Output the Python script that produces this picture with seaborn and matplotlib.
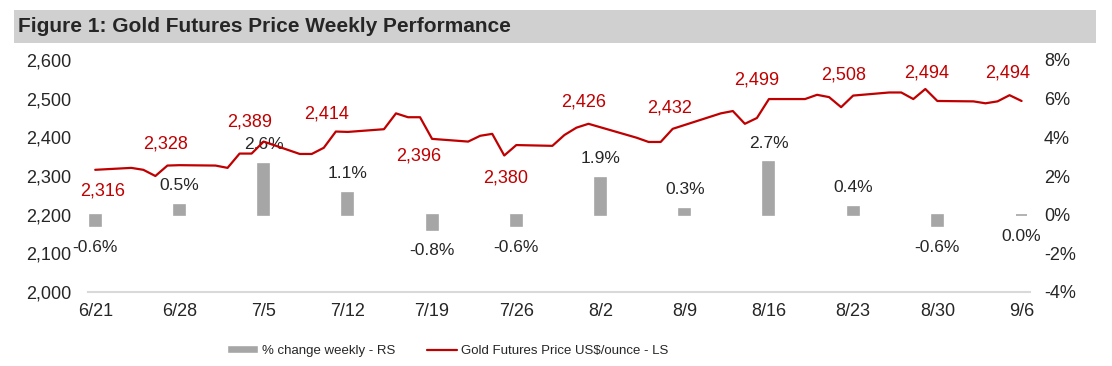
import pandas as pd
import seaborn as sns
import matplotlib.pyplot as plt
from matplotlib.patches import Rectangle
from matplotlib.lines import Line2D
from matplotlib.patches import Patch

# daily gold futures price (business days, 6/21 - 9/6)
price_dates = ['6/21', '6/24', '6/25', '6/26', '6/27', '6/28',
               '7/1', '7/2', '7/3', '7/4', '7/5',
               '7/8', '7/9', '7/10', '7/11', '7/12',
               '7/15', '7/16', '7/17', '7/18', '7/19',
               '7/22', '7/23', '7/24', '7/25', '7/26',
               '7/29', '7/30', '7/31', '8/1', '8/2',
               '8/5', '8/6', '8/7', '8/8', '8/9',
               '8/12', '8/13', '8/14', '8/15', '8/16',
               '8/19', '8/20', '8/21', '8/22', '8/23',
               '8/26', '8/27', '8/28', '8/29', '8/30',
               '9/2', '9/3', '9/4', '9/5', '9/6']
price = [2316, 2321, 2316, 2300, 2327, 2328,
         2327, 2321, 2358, 2358, 2389,
         2357, 2357, 2373, 2415, 2414,
         2421, 2462, 2452, 2452, 2396,
         2389, 2404, 2409, 2353, 2380,
         2378, 2406, 2425, 2435, 2426,
         2399, 2388, 2388, 2422, 2432,
         2462, 2468, 2435, 2450, 2499,
         2499, 2510, 2504, 2478, 2508,
         2516, 2516, 2499, 2525, 2494,
         2493, 2488, 2493, 2509, 2494]

# weekly % change
weeks = ['6/21', '6/28', '7/5', '7/12', '7/19', '7/26',
         '8/2', '8/9', '8/16', '8/23', '8/30', '9/6']
weekly_change = [-0.6, 0.5, 2.6, 1.1, -0.8, -0.6, 1.9, 0.3, 2.7, 0.4, -0.6, -0.03]


def to_day(label):
    d = pd.Timestamp('2024-' + label.replace('/', '-'))
    return (d - pd.Timestamp('2024-06-21')).days


line_df = pd.DataFrame({'day': [to_day(d) for d in price_dates], 'price': price})
bar_df = pd.DataFrame({'day': [to_day(w) for w in weeks], 'change': weekly_change})

sns.set_style('white')
plt.rcParams['font.family'] = ['Liberation Sans', 'DejaVu Sans']

RED = '#C00000'
GREY = '#A6A6A6'

fig = plt.figure(figsize=(11.12, 3.66), dpi=100)
ax = fig.add_axes([88 / 1112, 1 - 292 / 366, 942 / 1112, 232 / 366])
ax2 = ax.twinx()

# bars on right axis
sns.barplot(data=bar_df, x='day', y='change', native_scale=True, width=0.13,
            color=GREY, saturation=1, edgecolor=GREY, linewidth=1.2, ax=ax2, zorder=1)
ax2.set_ylim(-4, 8)
ax2.set_yticks(range(-4, 9, 2))
ax2.set_yticklabels([f'{v}%' for v in range(-4, 9, 2)])

# bar labels
for d, v in zip(bar_df['day'], bar_df['change']):
    txt = f'{abs(v):.1f}%' if round(v, 1) == 0 else f'{v:.1f}%'
    dy = 14 if v > 0 else -15
    ax2.annotate(txt, (d, v), xytext=(0, dy), textcoords='offset points',
                 ha='center', va='center', fontsize=12.5)

# price line on left axis (drawn above the bars)
ax.set_zorder(ax2.get_zorder() + 1)
ax.patch.set_visible(False)
sns.lineplot(data=line_df, x='day', y='price', color=RED, linewidth=1.6, ax=ax)
ax.set_ylim(2000, 2600)
ax.set_yticks(range(2000, 2601, 100))
ax.set_yticklabels([f'{v:,}' for v in range(2000, 2601, 100)])

# price labels at weekly closes
label_offsets = {'6/21': (5, -15), '6/28': (-10, 15), '7/5': (-10, 14), '7/12': (-15, 13),
                 '7/19': (-10, -12), '7/26': (-8, -24), '8/2': (-12, 18), '8/9': (-11, 12),
                 '8/16': (-9, 14), '8/23': (-7, 15), '8/30': (-8, 20), '9/6': (-10, 20)}
for w in weeks:
    d = to_day(w)
    p = line_df.loc[line_df['day'] == d, 'price'].iloc[0]
    ax.annotate(f'{p:,}', (d, p), xytext=label_offsets[w], textcoords='offset points',
                ha='center', va='center', fontsize=13, color=RED)

ax.set_xlim(-0.6, 77.7)
ax.set_xticks([to_day(w) for w in weeks])
ax.set_xticklabels(weeks)
ax.set_xlabel('')
ax.set_ylabel('')
ax2.set_ylabel('')

for a in (ax, ax2):
    for s in a.spines.values():
        s.set_visible(False)
    a.tick_params(length=0, labelsize=13)
ax.spines['bottom'].set_visible(True)
ax.spines['bottom'].set_color('#D9D9D9')
ax.spines['bottom'].set_linewidth(1.5)
ax.tick_params(axis='x', pad=8)
ax.tick_params(axis='y', pad=12)
ax2.tick_params(axis='y', pad=10)

# title band
fig.patches.append(Rectangle((14 / 1112, 1 - 43 / 366), 1082 / 1112, 33 / 366,
                             transform=fig.transFigure, facecolor='#D0D0D0',
                             edgecolor='none', zorder=0))
fig.text(18 / 1112, 1 - 27 / 366, 'Figure 1: Gold Futures Price Weekly Performance',
         fontsize=15, fontweight='bold', va='center', ha='left')

handles = [Patch(facecolor=GREY, label='% change weekly - RS'),
           Line2D([], [], color=RED, linewidth=1.6, label='Gold Futures Price US$/ounce - LS')]
fig.legend(handles=handles, loc='center', bbox_to_anchor=(448 / 1112, 1 - 351 / 366), ncol=2,
           frameon=False, fontsize=9.5, handlelength=2.3, handleheight=0.55,
           columnspacing=2.4, handletextpad=0.3)

fig.savefig('out.png', dpi=100)
